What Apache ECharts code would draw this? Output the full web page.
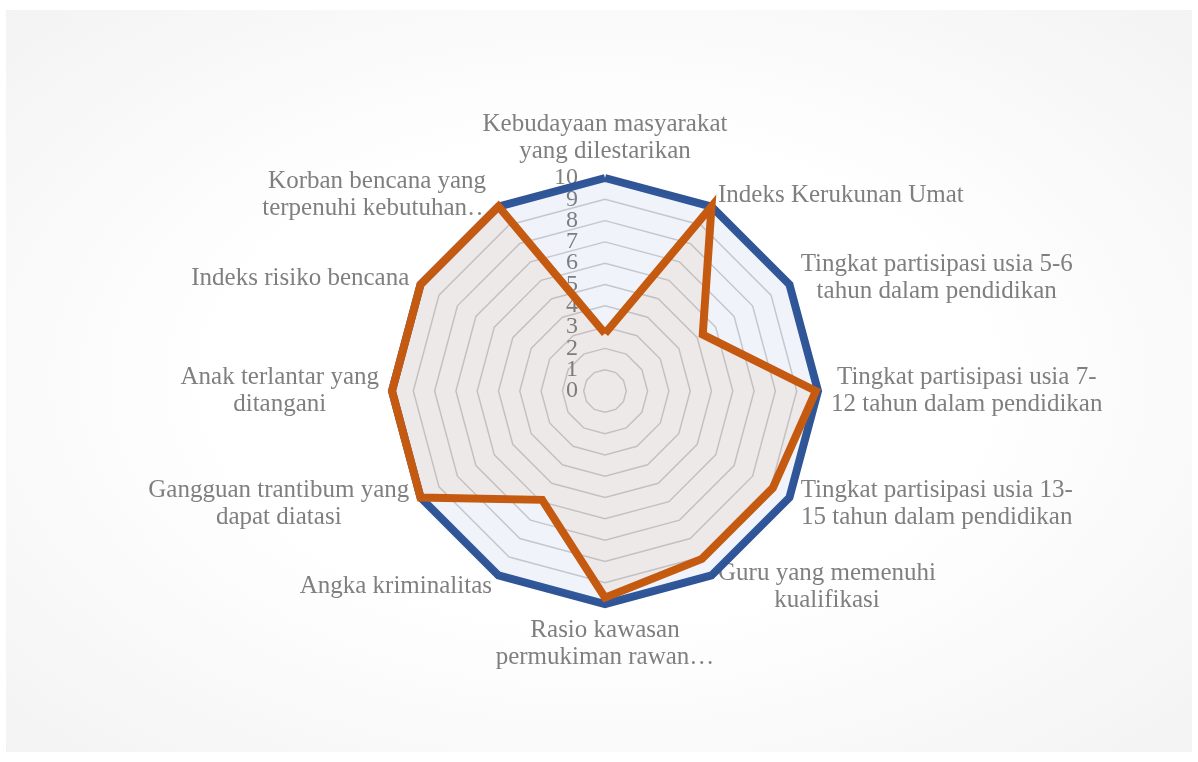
<!DOCTYPE html>
<html>
<head>
<meta charset="utf-8">
<script src="https://cdn.jsdelivr.net/npm/echarts@6/dist/echarts.min.js"></script>
<style>
    html, body {
        margin: 0;
        padding: 0;
        background: #ffffff;
    }
    #radar-chart {
        position: absolute;
        left: 6px;
        top: 10px;
        width: 1186px;
        height: 742px;
        background: radial-gradient(ellipse at 50% 50%, #ffffff 45%, #f3f3f3 100%);
    }
</style>
</head>
<body>
<div id="radar-chart"></div>
<script>
// indikator (nama sumbu), searah jarum jam mulai dari atas
const indicatorNames = [
    "Kebudayaan masyarakat\nyang dilestarikan",
    "Indeks Kerukunan Umat",
    "Tingkat partisipasi usia 5-6\ntahun dalam pendidikan",
    "Tingkat partisipasi usia 7-\n12 tahun dalam pendidikan",
    "Tingkat partisipasi usia 13-\n15 tahun dalam pendidikan",
    "Guru yang memenuhi\nkualifikasi",
    "Rasio kawasan\npermukiman rawan…",
    "Angka kriminalitas",
    "Gangguan trantibum yang\ndapat diatasi",
    "Anak terlantar yang\nditangani",
    "Indeks risiko bencana",
    "Korban bencana yang\nterpenuhi kebutuhan…",
];
const minValue = 0;
const maxValue = 10;
const targetValues = [10, 10, 10, 10, 10, 10, 10, 10, 10, 10, 10, 10];
const capaianValues = [2.7, 10, 5.3, 9.9, 9.1, 9.1, 9.7, 5.9, 10, 10, 10, 10];

const FONT = "'Liberation Serif', 'DejaVu Serif', serif";
const TEXT_COLOR = "#7f7f7f";
const CENTER = [599, 381];
const RADIUS = 213;

// echarts menggambar radar berlawanan arah jarum jam, jadi urutannya dibalik
// (indikator pertama tetap di atas)
function clockwise(arr) {
    return [arr[0]].concat(arr.slice(1).reverse());
}

const scaleLabel = {
    show: true,
    hideOverlap: false,
    margin: 27,
    color: TEXT_COLOR,
    fontFamily: FONT,
    fontSize: 24,
};

const chart = echarts.init(document.getElementById("radar-chart"));

chart.setOption({
    animation: false,
    radar: [
        {
            center: CENTER,
            radius: RADIUS,
            startAngle: 90,
            shape: "polygon",
            splitNumber: 10,
            nameGap: 13,
            axisName: {
                color: TEXT_COLOR,
                fontFamily: FONT,
                fontSize: 25,
                lineHeight: 27,
                formatter(value) {
                    // baris teks rata tengah seperti pada gambar asli
                    return value
                        .split("\n")
                        .map((line) => "{c|" + line + "}")
                        .join("\n");
                },
                rich: {
                    c: {
                        align: "center",
                        color: TEXT_COLOR,
                        fontFamily: FONT,
                        fontSize: 25,
                        lineHeight: 27,
                    },
                },
            },
            axisLine: { show: false },
            axisTick: { show: false },
            splitArea: { show: false },
            splitLine: {
                lineStyle: {
                    color: "#d0d0d0",
                    width: 1.5,
                },
            },
            indicator: clockwise(indicatorNames).map((name, i) => {
                const ind = { name: name, max: maxValue, min: minValue };
                if (i === 0) {
                    // label 1-9 pada sumbu atas
                    ind.axisLabel = Object.assign({}, scaleLabel, {
                        showMinLabel: false,
                        showMaxLabel: false,
                    });
                }
                return ind;
            }),
        },
        {
            // radar kedua (tanpa garis) hanya untuk label 0 dan 10
            center: CENTER,
            radius: RADIUS,
            startAngle: 90,
            shape: "polygon",
            splitNumber: 10,
            axisName: { show: false },
            axisLine: { show: false },
            axisTick: { show: false },
            splitArea: { show: false },
            splitLine: { show: false },
            indicator: indicatorNames.map((name, i) => {
                const ind = { name: "", max: maxValue, min: minValue };
                if (i === 0) {
                    ind.axisLabel = Object.assign({}, scaleLabel, {
                        showMinLabel: true,
                        showMaxLabel: true,
                        formatter(v) {
                            return v === minValue || v === maxValue ? String(v) : "";
                        },
                    });
                }
                return ind;
            }),
        },
    ],
    series: [
        {
            type: "radar",
            radarIndex: 0,
            symbol: "none",
            data: [
                {
                    name: "Target",
                    value: clockwise(targetValues),
                    lineStyle: {
                        color: "#2f5597",
                        width: 8,
                        join: "miter",
                    },
                    areaStyle: {
                        color: "rgba(68, 114, 196, 0.11)",
                    },
                },
                {
                    name: "Capaian",
                    value: clockwise(capaianValues),
                    lineStyle: {
                        color: "#c55a11",
                        width: 8,
                        join: "miter",
                    },
                    areaStyle: {
                        color: "rgba(197, 90, 17, 0.1)",
                    },
                },
            ],
        },
    ],
});
</script>
</body>
</html>
